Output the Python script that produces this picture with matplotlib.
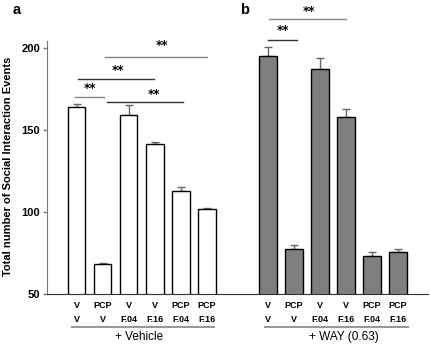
import numpy as np
import matplotlib.pyplot as plt

plt.rcParams['font.family'] = ['Liberation Sans', 'DejaVu Sans']

# Datos
vehicle_means = [164, 68.3, 159.1, 141.3, 112.8, 102.0]
vehicle_err = [1.8, 0.6, 6.0, 1.3, 2.5, 0.7]
way_means = [194.9, 77.6, 187.2, 157.9, 73.2, 75.8]
way_err = [5.7, 2.3, 6.7, 4.7, 2.4, 1.4]
row1 = ['V', 'PCP', 'V', 'V', 'PCP', 'PCP']
row2 = ['V', 'V', 'F.04', 'F.16', 'F.04', 'F.16']

# posiciones de las barras
xa = np.arange(6)
xb = np.arange(6) + 7.35

fig = plt.figure(figsize=(4.3, 3.46), dpi=100)
ax = fig.add_axes([0.109, 0.150, 0.886, 0.835])

w = 0.67
ax.bar(xa, vehicle_means, w, color='white', edgecolor='black', linewidth=1.0, zorder=2)
ax.bar(xb, way_means, w, color='#7f7f7f', edgecolor='black', linewidth=1.0, zorder=2)
ax.errorbar(xa, vehicle_means, yerr=[np.zeros(6), vehicle_err], fmt='none',
            ecolor='#666666', elinewidth=1.0, capsize=3, capthick=1.0, zorder=1)
ax.errorbar(xb, way_means, yerr=[np.zeros(6), way_err], fmt='none',
            ecolor='#666666', elinewidth=1.0, capsize=3, capthick=1.0, zorder=1)

ax.set_xlim(-1.15, 13.5)
ax.set_ylim(50, 226)
ax.spines['top'].set_visible(False)
ax.spines['right'].set_visible(False)
ax.spines['left'].set_bounds(50, 204)
ax.spines['left'].set_color('#777777')
ax.spines['bottom'].set_color('#333333')
ax.set_xticks([])
ax.set_yticks([50, 100, 150, 200])
ax.tick_params(axis='y', length=3, width=1, color='#777777', pad=2, labelsize=8)
for t in ax.get_yticklabels():
    t.set_fontweight('bold')
ax.set_ylabel('Total number of Social Interaction Events', fontsize=8,
              fontweight='bold')
ax.yaxis.set_label_coords(-0.09, 0.443)

# lineas de significancia (x0, x1, y, x estrellas, y estrellas, color)
sig = [(-0.08, 1.04, 170.1, 0.5, 175.0, '#888888'),
       (0.04, 2.96, 180.9, 1.6, 186.2, '#333333'),
       (1.08, 5.0, 194.7, 3.27, 201.2, '#888888'),
       (1.15, 4.08, 166.9, 2.96, 171.3, '#333333'),
       (7.38, 10.35, 217.3, 8.92, 222.0, '#888888'),
       (7.35, 8.46, 204.7, 7.92, 210.5, '#333333')]
for x0, x1, y, xs, ys, c in sig:
    ax.plot([x0, x1], [y, y], color=c, linewidth=1.0, clip_on=False)
    ax.text(xs, ys, '**', ha='center', va='center', fontsize=8.5, fontweight='bold',
            family='DejaVu Sans')

# etiquetas de grupos
for xs in (xa, xb):
    for i, x in enumerate(xs):
        ax.text(x, 43.3, row1[i], ha='center', va='center', fontsize=6.5,
                fontweight='bold', clip_on=False)
        ax.text(x, 34.8, row2[i], ha='center', va='center', fontsize=6.5,
                fontweight='bold', clip_on=False)
ax.plot([-0.19, 5.27], [29.9, 29.9], color='#999999', linewidth=1.5, clip_on=False)
ax.plot([7.23, 12.73], [29.9, 29.9], color='#999999', linewidth=1.5, clip_on=False)
ax.text(2.41, 23.8, '+ Vehicle', ha='center', va='center', fontsize=8.5, clip_on=False)
ax.text(10.29, 23.8, '+ WAY (0.63)', ha='center', va='center', fontsize=8.5, clip_on=False)

fig.text(13 / 430, 1 - 10 / 346, 'a', fontsize=10.5, fontweight='bold', va='center')
fig.text(240 / 430, 1 - 10 / 346, 'b', fontsize=10.5, fontweight='bold', va='center')

fig.savefig('out.png', dpi=100)
